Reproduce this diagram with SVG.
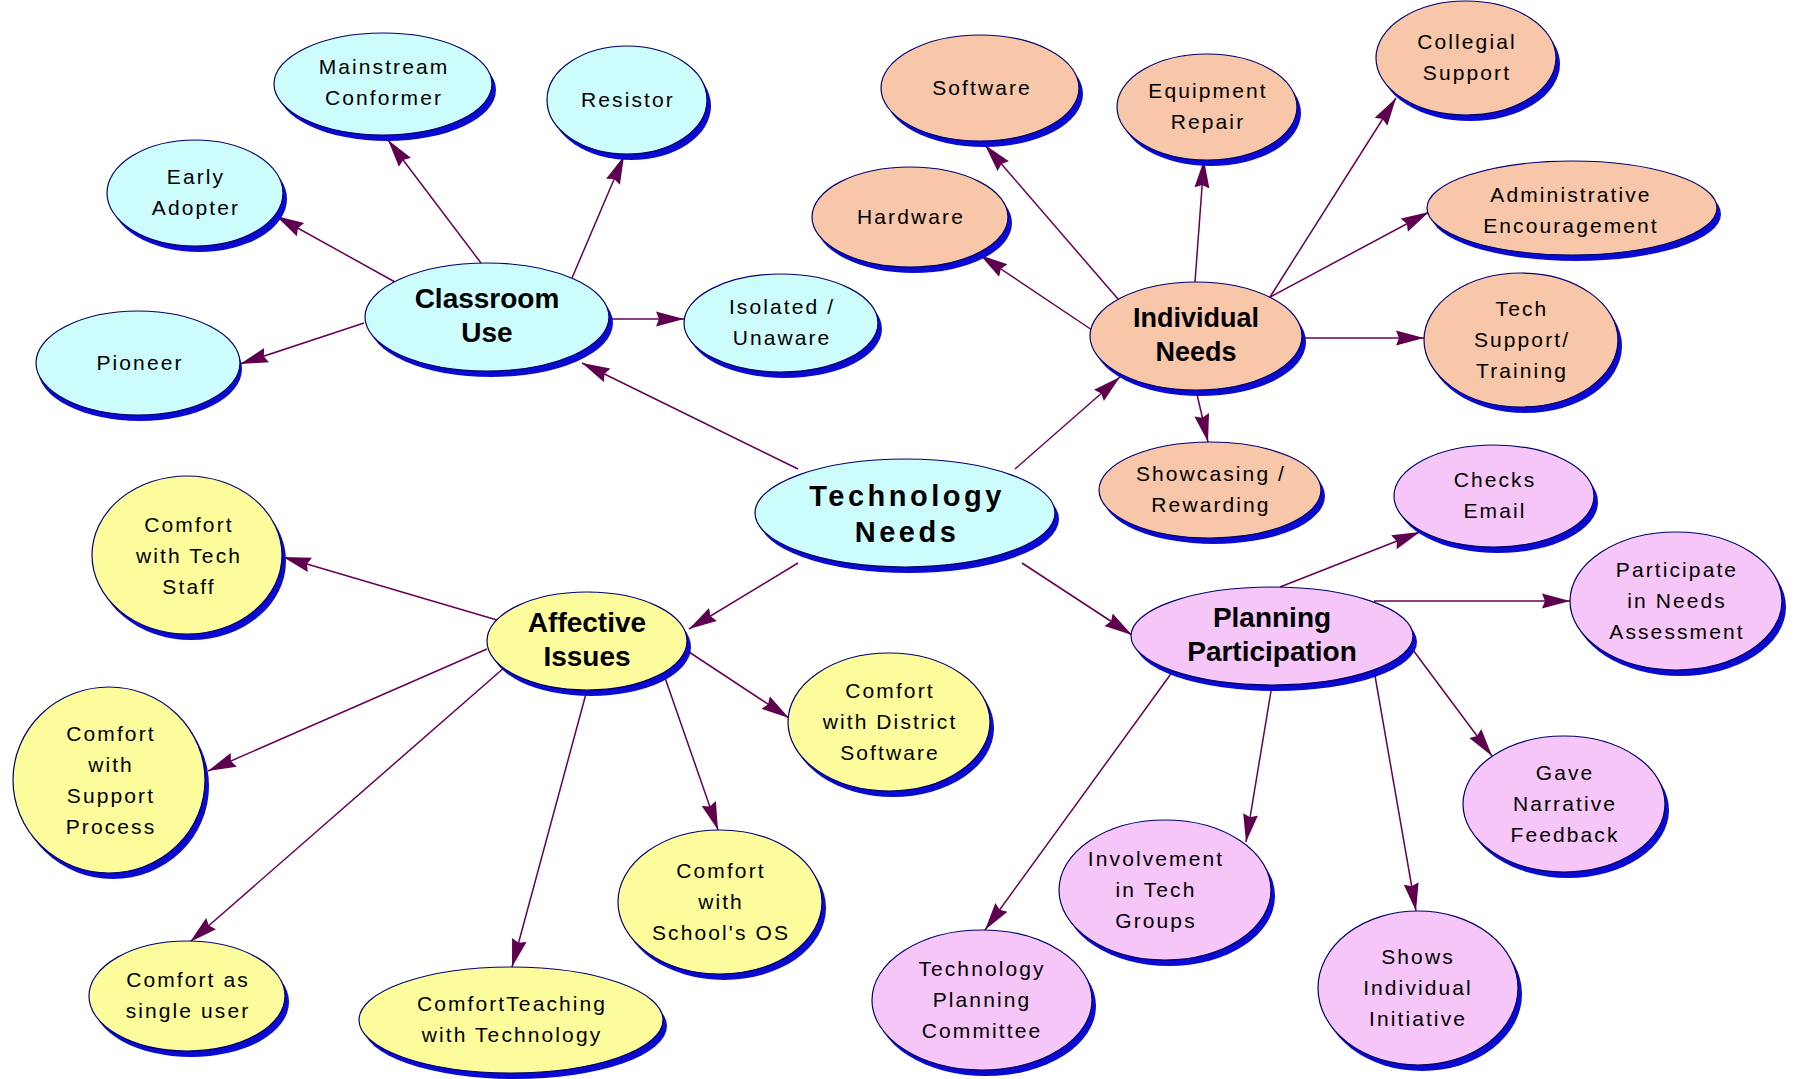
<svg xmlns="http://www.w3.org/2000/svg" width="1795" height="1079" viewBox="0 0 1795 1079">
<style>
.sh{fill:#0a0ad0}
.e{stroke:#00006a;stroke-width:1.2}
.cy{fill:#ccfcfc}.pe{fill:#f8c6a8}.ye{fill:#fcfc9c}.pk{fill:#f6c6f8}
text{font-family:"Liberation Sans",Arial,sans-serif;font-size:21px;letter-spacing:2.1px;text-anchor:middle;fill:#000}
text.b{font-weight:bold;font-size:28px;letter-spacing:0}
text.m{font-weight:bold;font-size:29px;letter-spacing:3.5px}
#connectors line{stroke:#660055;stroke-width:1.5;marker-end:url(#ah)}
</style>
<defs>
<marker id="ah" markerUnits="userSpaceOnUse" markerWidth="30" markerHeight="18" refX="28" refY="8" orient="auto">
<path d="M0,0.5 L28,8 L0,15.5 L3,8 Z" fill="#5e004e"/>
</marker>
</defs>
<rect width="1795" height="1079" fill="#ffffff"/>
<g id="connectors">
<line x1="798" y1="469" x2="582" y2="363"/>
<line x1="1015" y1="469" x2="1120" y2="377"/>
<line x1="798" y1="563" x2="689" y2="629"/>
<line x1="1022" y1="563" x2="1132" y2="635"/>
<line x1="481" y1="263" x2="388" y2="140"/>
<line x1="572" y1="278" x2="624" y2="156"/>
<line x1="395" y1="282" x2="276" y2="216"/>
<line x1="364" y1="323" x2="240" y2="364"/>
<line x1="609" y1="319" x2="684" y2="319"/>
<line x1="1118" y1="299" x2="985" y2="145"/>
<line x1="1195" y1="282" x2="1204" y2="160"/>
<line x1="1270" y1="297" x2="1396" y2="98"/>
<line x1="1270" y1="297" x2="1429" y2="212"/>
<line x1="1092" y1="330" x2="980" y2="255"/>
<line x1="1302" y1="338" x2="1424" y2="338"/>
<line x1="1196" y1="390" x2="1208" y2="442"/>
<line x1="497" y1="620" x2="283" y2="557"/>
<line x1="487" y1="649" x2="208" y2="771"/>
<line x1="505" y1="667" x2="190" y2="942"/>
<line x1="587" y1="690" x2="512" y2="967"/>
<line x1="663" y1="672" x2="718" y2="830"/>
<line x1="686" y1="650" x2="789" y2="718"/>
<line x1="1280" y1="587" x2="1420" y2="532"/>
<line x1="1374" y1="601" x2="1570" y2="601"/>
<line x1="1410" y1="646" x2="1492" y2="756"/>
<line x1="1272" y1="685" x2="1246" y2="842"/>
<line x1="1374" y1="670" x2="1416" y2="911"/>
<line x1="1173" y1="671" x2="985" y2="930"/>
</g>
<g id="technology-needs"><ellipse class="sh" cx="909" cy="519" rx="150" ry="54"/><ellipse class="e cy" cx="905" cy="513" rx="150" ry="54"/><text class="m" x="907" y="506">Technology</text><text class="m" x="907" y="542">Needs</text></g>
<g id="classroom-use"><ellipse class="sh" cx="491" cy="323" rx="122" ry="54"/><ellipse class="e cy" cx="487" cy="317" rx="122" ry="54"/><text class="b" x="487" y="308">Classroom</text><text class="b" x="487" y="342">Use</text></g>
<g id="individual-needs"><ellipse class="sh" cx="1200" cy="342" rx="106" ry="54"/><ellipse class="e pe" cx="1196" cy="336" rx="106" ry="54"/><text class="b" x="1196" y="327" style="font-size:27px">Individual</text><text class="b" x="1196" y="361" style="font-size:27px">Needs</text></g>
<g id="affective-issues"><ellipse class="sh" cx="591" cy="647" rx="100" ry="49"/><ellipse class="e ye" cx="587" cy="641" rx="100" ry="49"/><text class="b" x="587" y="632">Affective</text><text class="b" x="587" y="666">Issues</text></g>
<g id="planning-participation"><ellipse class="sh" cx="1276" cy="642" rx="141" ry="49"/><ellipse class="e pk" cx="1272" cy="636" rx="141" ry="49"/><text class="b" x="1272" y="627">Planning</text><text class="b" x="1272" y="661">Participation</text></g>
<g id="mainstream-conformer"><ellipse class="sh" cx="387" cy="90" rx="109" ry="51"/><ellipse class="e cy" cx="383" cy="84" rx="109" ry="51"/><text x="384" y="74">Mainstream</text><text x="384" y="105">Conformer</text></g>
<g id="resistor"><ellipse class="sh" cx="631" cy="106" rx="80" ry="54"/><ellipse class="e cy" cx="627" cy="100" rx="80" ry="54"/><text x="628" y="107">Resistor</text></g>
<g id="early-adopter"><ellipse class="sh" cx="199" cy="199" rx="88" ry="53"/><ellipse class="e cy" cx="195" cy="193" rx="88" ry="53"/><text x="196" y="184">Early</text><text x="196" y="215">Adopter</text></g>
<g id="pioneer"><ellipse class="sh" cx="140" cy="369" rx="102" ry="52"/><ellipse class="e cy" cx="138" cy="363" rx="102" ry="52"/><text x="140" y="370">Pioneer</text></g>
<g id="isolated-unaware"><ellipse class="sh" cx="785" cy="329" rx="97" ry="49"/><ellipse class="e cy" cx="781" cy="323" rx="97" ry="49"/><text x="782" y="314">Isolated /</text><text x="782" y="345">Unaware</text></g>
<g id="software"><ellipse class="sh" cx="984" cy="94" rx="99" ry="53"/><ellipse class="e pe" cx="980" cy="88" rx="99" ry="53"/><text x="982" y="95">Software</text></g>
<g id="equipment-repair"><ellipse class="sh" cx="1211" cy="113" rx="90" ry="53"/><ellipse class="e pe" cx="1207" cy="107" rx="90" ry="53"/><text x="1208" y="98">Equipment</text><text x="1208" y="129">Repair</text></g>
<g id="collegial-support"><ellipse class="sh" cx="1470" cy="64" rx="90" ry="57"/><ellipse class="e pe" cx="1466" cy="58" rx="90" ry="57"/><text x="1467" y="49">Collegial</text><text x="1467" y="80">Support</text></g>
<g id="hardware"><ellipse class="sh" cx="914" cy="223" rx="98" ry="50"/><ellipse class="e pe" cx="910" cy="217" rx="98" ry="50"/><text x="911" y="224">Hardware</text></g>
<g id="administrative-encouragement"><ellipse class="sh" cx="1576" cy="214" rx="145" ry="47"/><ellipse class="e pe" cx="1572" cy="208" rx="145" ry="47"/><text x="1571" y="202">Administrative</text><text x="1571" y="233">Encouragement</text></g>
<g id="tech-support-training"><ellipse class="sh" cx="1525" cy="346" rx="97" ry="67"/><ellipse class="e pe" cx="1521" cy="340" rx="97" ry="67"/><text x="1522" y="316">Tech</text><text x="1522" y="347">Support/</text><text x="1522" y="378">Training</text></g>
<g id="showcasing-rewarding"><ellipse class="sh" cx="1214" cy="496" rx="111" ry="48"/><ellipse class="e pe" cx="1210" cy="490" rx="111" ry="48"/><text x="1211" y="481">Showcasing /</text><text x="1211" y="512">Rewarding</text></g>
<g id="comfort-tech-staff"><ellipse class="sh" cx="191" cy="561" rx="95" ry="79"/><ellipse class="e ye" cx="187" cy="555" rx="95" ry="79"/><text x="189" y="532">Comfort</text><text x="189" y="563">with Tech</text><text x="189" y="594">Staff</text></g>
<g id="comfort-support-process"><ellipse class="sh" cx="113" cy="786" rx="96" ry="93"/><ellipse class="e ye" cx="109" cy="780" rx="96" ry="93"/><text x="111" y="741">Comfort</text><text x="111" y="772">with</text><text x="111" y="803">Support</text><text x="111" y="834">Process</text></g>
<g id="comfort-district-software"><ellipse class="sh" cx="893" cy="728" rx="101" ry="69"/><ellipse class="e ye" cx="889" cy="722" rx="101" ry="69"/><text x="890" y="698">Comfort</text><text x="890" y="729">with District</text><text x="890" y="760">Software</text></g>
<g id="comfort-schools-os"><ellipse class="sh" cx="724" cy="908" rx="102" ry="72"/><ellipse class="e ye" cx="720" cy="902" rx="102" ry="72"/><text x="721" y="878">Comfort</text><text x="721" y="909">with</text><text x="721" y="940">School's OS</text></g>
<g id="comfort-single-user"><ellipse class="sh" cx="191" cy="1002" rx="98" ry="55"/><ellipse class="e ye" cx="187" cy="996" rx="98" ry="55"/><text x="188" y="987">Comfort as</text><text x="188" y="1018">single user</text></g>
<g id="comfort-teaching"><ellipse class="sh" cx="515" cy="1026" rx="152" ry="53"/><ellipse class="e ye" cx="511" cy="1020" rx="152" ry="53"/><text x="512" y="1011">ComfortTeaching</text><text x="512" y="1042">with Technology</text></g>
<g id="checks-email"><ellipse class="sh" cx="1498" cy="502" rx="100" ry="51"/><ellipse class="e pk" cx="1494" cy="496" rx="100" ry="51"/><text x="1495" y="487">Checks</text><text x="1495" y="518">Email</text></g>
<g id="participate-needs-assessment"><ellipse class="sh" cx="1680" cy="607" rx="106" ry="69"/><ellipse class="e pk" cx="1676" cy="601" rx="106" ry="69"/><text x="1677" y="577">Participate</text><text x="1677" y="608">in Needs</text><text x="1677" y="639">Assessment</text></g>
<g id="gave-narrative-feedback"><ellipse class="sh" cx="1568" cy="810" rx="101" ry="68"/><ellipse class="e pk" cx="1564" cy="804" rx="101" ry="68"/><text x="1565" y="780">Gave</text><text x="1565" y="811">Narrative</text><text x="1565" y="842">Feedback</text></g>
<g id="involvement-tech-groups"><ellipse class="sh" cx="1169" cy="896" rx="106" ry="70"/><ellipse class="e pk" cx="1165" cy="890" rx="106" ry="70"/><text x="1156" y="866">Involvement</text><text x="1156" y="897">in Tech</text><text x="1156" y="928">Groups</text></g>
<g id="shows-individual-initiative"><ellipse class="sh" cx="1422" cy="994" rx="100" ry="77"/><ellipse class="e pk" cx="1418" cy="988" rx="100" ry="77"/><text x="1418" y="964">Shows</text><text x="1418" y="995">Individual</text><text x="1418" y="1026">Initiative</text></g>
<g id="technology-planning-committee"><ellipse class="sh" cx="986" cy="1006" rx="110" ry="70"/><ellipse class="e pk" cx="982" cy="1000" rx="110" ry="70"/><text x="982" y="976">Technology</text><text x="982" y="1007">Planning</text><text x="982" y="1038">Committee</text></g>
</svg>
